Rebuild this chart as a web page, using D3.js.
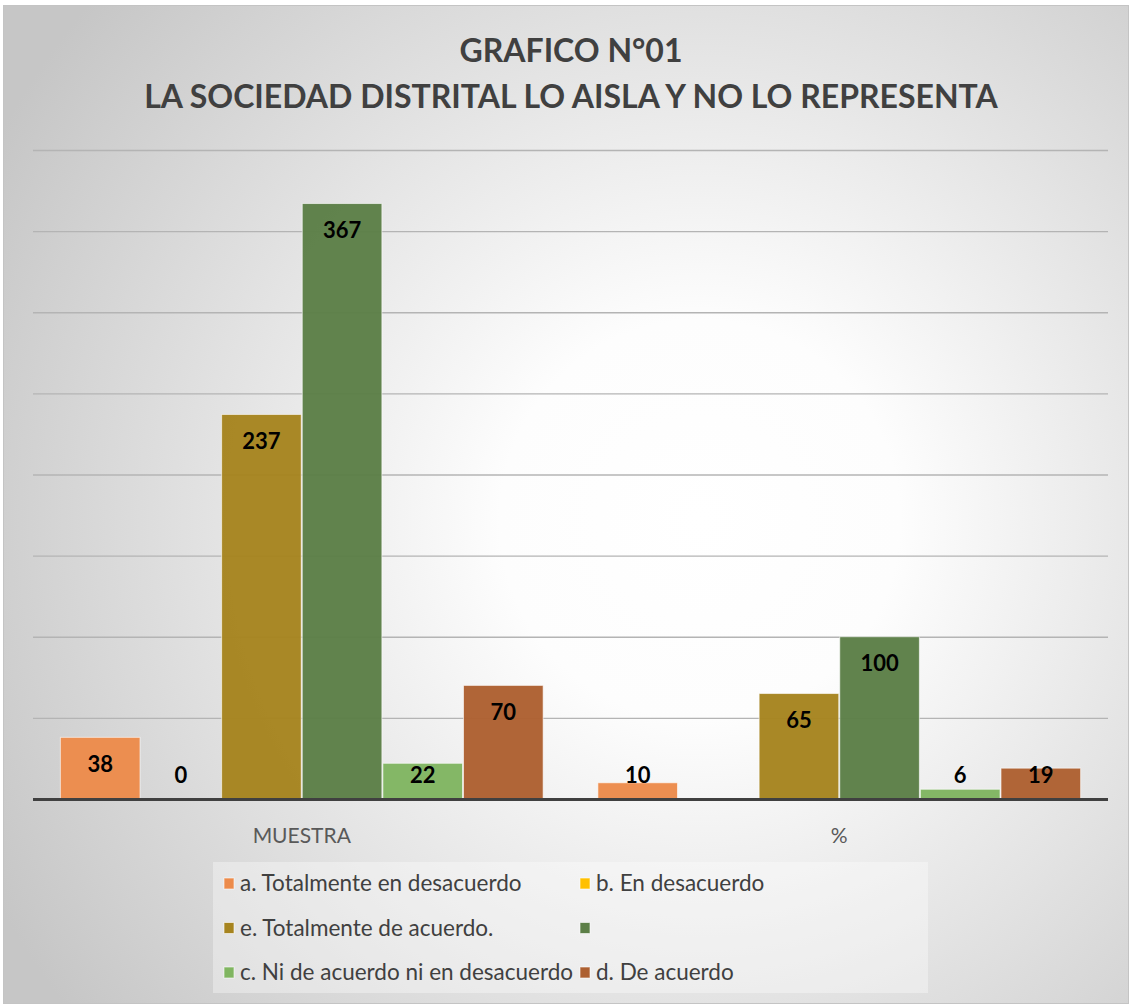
<!DOCTYPE html>
<html><head><meta charset="utf-8">
<script src="https://cdn.jsdelivr.net/npm/d3@7"></script>
<style>html,body{margin:0;padding:0;background:#fff;}</style>
</head><body>
<svg id="chart" width="1132" height="1007"></svg>
<script>
const titleLines = ["GRAFICO N°01", "LA SOCIEDAD DISTRITAL LO AISLA Y NO LO REPRESENTA"];
const categories = ["MUESTRA", "%"];
const seriesNames = ["a. Totalmente en desacuerdo", "b. En desacuerdo", "e. Totalmente de acuerdo.", "", "c. Ni de acuerdo ni en desacuerdo", "d. De acuerdo"];
const muestraValues = [38, 0, 237, 367, 22, 70];
const percentValues = [10, null, 65, 100, 6, 19];
const yTickValues = [0, 50, 100, 150, 200, 250, 300, 350, 400];
const seriesColors = ["#EC8B4B", "#FFC000", "#A6841F", "#5C7F47", "#80B561", "#AD6031"];
const legendOrder = [0, 1, 2, 3, 4, 5];

const W = 1132, H = 1007;
const svg = d3.select("#chart");
const defs = svg.append("defs");
const grad = defs.append("radialGradient").attr("id", "bg")
  .attr("gradientUnits", "userSpaceOnUse")
  .attr("cx", 700).attr("cy", 520).attr("r", 800);
grad.append("stop").attr("offset", "0%").attr("stop-color", "#ffffff");
grad.append("stop").attr("offset", "25%").attr("stop-color", "#fdfdfd");
grad.append("stop").attr("offset", "100%").attr("stop-color", "#c6c6c6");

svg.append("rect").attr("x", 3.5).attr("y", 5.5).attr("width", 1125).attr("height", 998)
  .attr("fill", "url(#bg)").attr("stroke", "#c4c4c4").attr("stroke-width", 1);

const margin = {left: 33, right: 1108, top: 150, bottom: 799};
const x0 = d3.scaleBand().domain(categories).range([margin.left, margin.right])
  .paddingInner(0.1).paddingOuter(0.05);
const x1 = d3.scaleBand().domain(d3.range(seriesNames.length)).range([0, x0.bandwidth()]).padding(0);
const y = d3.scaleLinear().domain([0, 400]).range([margin.bottom, margin.top]);

// gridlines
const grid = svg.append("g").attr("transform", `translate(${margin.left},0)`)
  .call(d3.axisLeft(y).tickValues(yTickValues).tickSize(-(margin.right - margin.left)).tickFormat(""));
grid.select(".domain").remove();
grid.selectAll(".tick line").attr("stroke", "#b4b4b4").attr("stroke-width", 1.3);

// title
const title = svg.append("g").attr("font-family", "Lato, 'Open Sans', sans-serif")
  .attr("font-weight", "bold").attr("fill", "#404040").attr("text-anchor", "middle");
title.selectAll("text").data(titleLines).join("text")
  .attr("x", 571).attr("y", (d, i) => 62 + i * 46)
  .attr("font-size", 32).text(d => d);

// bars
const data = categories.map((c, ci) => ({cat: c, vals: (ci === 0 ? muestraValues : percentValues)}));
const groups = svg.append("g").selectAll("g").data(data).join("g")
  .attr("transform", d => `translate(${x0(d.cat)},0)`);
groups.selectAll("rect").data(d => d.vals.map((v, i) => ({v, i})).filter(e => e.v !== null)).join("rect")
  .attr("x", d => x1(d.i) + 0.5).attr("width", x1.bandwidth() - 1)
  .attr("y", d => y(d.v)).attr("height", d => y(0) - y(d.v))
  .attr("fill", d => seriesColors[d.i]).attr("fill-opacity", 0.97)
  .attr("stroke", "#ffffff").attr("stroke-opacity", 0.6).attr("stroke-width", 1);
groups.selectAll("text").data(d => d.vals.map((v, i) => ({v, i})).filter(e => e.v !== null)).join("text")
  .attr("x", d => x1(d.i) + x1.bandwidth() / 2)
  .attr("y", d => Math.min(y(d.v) + 27, y(0) - 24))
  .attr("dy", "0.35em").attr("text-anchor", "middle")
  .attr("font-family", "Lato, 'Open Sans', sans-serif").attr("font-weight", "bold")
  .attr("font-size", 22).attr("fill", "#000")
  .text(d => d.v);

// baseline
svg.append("line").attr("x1", margin.left).attr("x2", margin.right)
  .attr("y1", y(0) + 0.5).attr("y2", y(0) + 0.5).attr("stroke", "#404040").attr("stroke-width", 3);

// category axis
const xa = svg.append("g").attr("transform", `translate(0,${y(0)})`)
  .call(d3.axisBottom(x0).tickSize(0).tickPadding(0));
xa.select(".domain").remove();
xa.selectAll("text").attr("y", 44).attr("dy", 0).attr("font-family", "Lato, 'Open Sans', sans-serif")
  .attr("font-size", 21).attr("fill", "#595959");

// legend
const lg = svg.append("g");
lg.append("rect").attr("x", 213).attr("y", 862).attr("width", 715).attr("height", 131)
  .attr("fill", "#ffffff").attr("fill-opacity", 0.35);
const items = lg.selectAll("g.item").data(legendOrder).join("g").attr("class", "item")
  .attr("transform", (d, k) => `translate(${k % 2 === 0 ? 224 : 580},${883 + Math.floor(k / 2) * 44.5})`);
items.append("rect").attr("x", 0).attr("y", -5).attr("width", 10).attr("height", 11)
  .attr("fill", d => seriesColors[d]).attr("stroke", "#fff").attr("stroke-opacity", 0.6);
items.append("text").attr("x", 16).attr("y", 0).attr("dy", "0.36em")
  .attr("font-family", "Lato, 'Open Sans', sans-serif").attr("font-size", 22.5).attr("fill", "#404040")
  .text(d => seriesNames[d]);
</script>
</body></html>
